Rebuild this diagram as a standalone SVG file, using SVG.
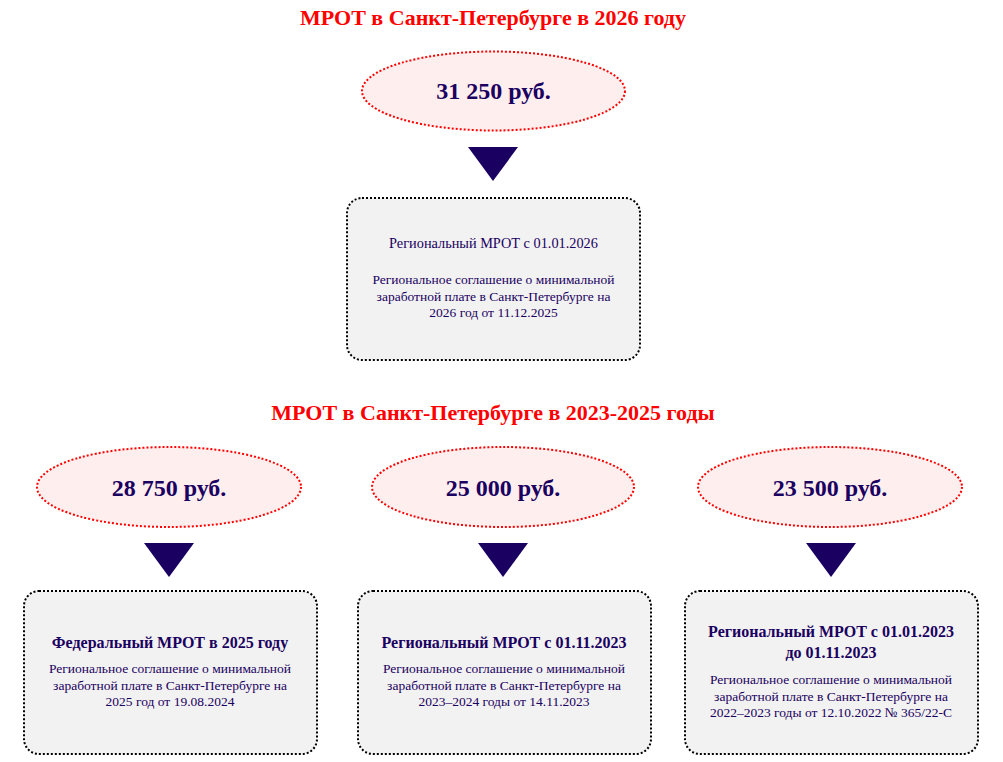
<svg xmlns="http://www.w3.org/2000/svg" width="1003" height="762" viewBox="0 0 1003 762">
<style>
.title{font-family:"Liberation Serif",serif;font-weight:bold;font-size:22px;fill:#ff0000;text-anchor:middle}
.oval{fill:#ffeeee;stroke:#ff0000;stroke-width:2;stroke-dasharray:2 2}
.sum{font-family:"Liberation Serif",serif;font-weight:bold;font-size:24px;fill:#1a0060;text-anchor:middle}
.box{fill:#f2f2f2;stroke:#000;stroke-width:2;stroke-dasharray:2 2}
.hd{font-family:"Liberation Serif",serif;font-size:14.3px;fill:#1a0060;text-anchor:middle}
.hdb{font-family:"Liberation Serif",serif;font-weight:bold;font-size:16px;fill:#1a0060;text-anchor:middle}
.tx{font-family:"Liberation Serif",serif;font-size:13.5px;fill:#1a0060;text-anchor:middle}
.arr{fill:#1a0060}
</style>
<text class="title" x="493" y="25">МРОТ в Санкт-Петербурге в 2026 году</text>
<text class="title" x="493" y="420">МРОТ в Санкт-Петербурге в 2023-2025 годы</text>

<g id="connectors">
<polygon class="arr" points="468,147 518,147 493,181"/>
<polygon class="arr" points="144,543 194,543 169,577"/>
<polygon class="arr" points="478,543 528,543 503,577"/>
<polygon class="arr" points="806,543 856,543 831,577"/>
</g>

<g id="sum2026">
<ellipse class="oval" cx="493.5" cy="91" rx="131.5" ry="39.5"/>
<text class="sum" x="493.5" y="99">31 250 руб.</text>
</g>
<g id="box2026">
<rect class="box" x="347" y="198" width="293" height="162" rx="15"/>
<text class="hd" x="493.5" y="248">Региональный МРОТ с 01.01.2026</text>
<text class="tx" x="493.5" y="284">Региональное соглашение о минимальной</text>
<text class="tx" x="493.5" y="300.5">заработной плате в Санкт-Петербурге на</text>
<text class="tx" x="493.5" y="317">2026 год от 11.12.2025</text>
</g>

<g id="sum2025">
<ellipse class="oval" cx="169" cy="487" rx="132" ry="40"/>
<text class="sum" x="169" y="496">28 750 руб.</text>
</g>
<g id="box2025">
<rect class="box" x="24" y="591" width="293" height="163" rx="15"/>
<text class="hdb" x="170" y="648">Федеральный МРОТ в 2025 году</text>
<text class="tx" x="170" y="673">Региональное соглашение о минимальной</text>
<text class="tx" x="170" y="689.5">заработной плате в Санкт-Петербурге на</text>
<text class="tx" x="170" y="706">2025 год от 19.08.2024</text>
</g>

<g id="sum2023b">
<ellipse class="oval" cx="503" cy="487" rx="131" ry="40"/>
<text class="sum" x="503" y="496">25 000 руб.</text>
</g>
<g id="box2023b">
<rect class="box" x="358" y="591" width="293" height="163" rx="15"/>
<text class="hdb" x="504" y="648">Региональный МРОТ с 01.11.2023</text>
<text class="tx" x="504" y="673">Региональное соглашение о минимальной</text>
<text class="tx" x="504" y="689.5">заработной плате в Санкт-Петербурге на</text>
<text class="tx" x="504" y="706">2023–2024 годы от 14.11.2023</text>
</g>

<g id="sum2023a">
<ellipse class="oval" cx="830" cy="487" rx="132" ry="40"/>
<text class="sum" x="830" y="496">23 500 руб.</text>
</g>
<g id="box2023a">
<rect class="box" x="685" y="591" width="293" height="163" rx="15"/>
<text class="hdb" x="831" y="637">Региональный МРОТ с 01.01.2023</text>
<text class="hdb" x="831" y="658">до 01.11.2023</text>
<text class="tx" x="831" y="684">Региональное соглашение о минимальной</text>
<text class="tx" x="831" y="700.5">заработной плате в Санкт-Петербурге на</text>
<text class="tx" x="831" y="717">2022–2023 годы от 12.10.2022 № 365/22-С</text>
</g>
</svg>
